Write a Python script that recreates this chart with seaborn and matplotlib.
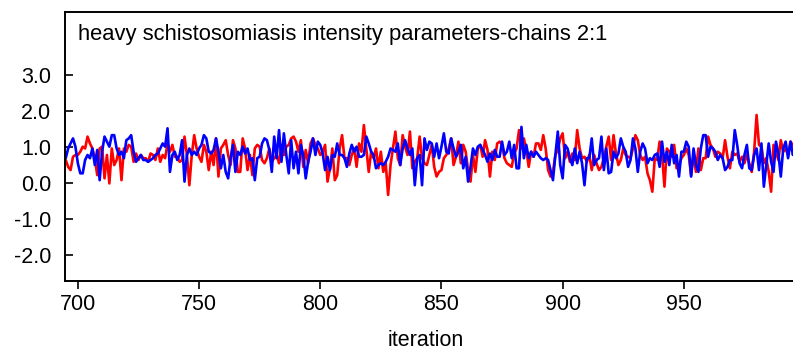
import numpy as np
import pandas as pd
import matplotlib
matplotlib.use("Agg")
import matplotlib.pyplot as plt
import seaborn as sns

start_iter = 695
chain_red = [
    0.64,0.45,0.36,0.73,0.78,0.78,0.87,1.01,0.96,1.29,1.10,0.96,0.69,0.22,0.96,1.01,0.13,0.78,-0.01,0.96,0.50,0.64,0.96,0.08,0.96,0.87,1.06,1.01,0.59,0.82,0.64,0.78,0.69,
    0.69,0.59,0.82,0.78,0.64,0.96,0.59,0.78,0.69,1.10,0.87,1.06,0.73,0.73,0.59,0.64,1.29,0.78,-0.06,0.78,1.33,0.96,0.73,0.59,1.06,0.87,0.36,0.87,0.50,1.24,0.18,0.96,1.06,1.19,0.78,0.50,1.19,0.96,0.31,
    0.31,1.24,0.96,0.36,0.78,0.22,0.96,1.06,1.01,0.64,0.55,0.69,0.96,0.59,0.69,0.78,0.55,1.06,0.78,1.01,1.06,1.24,1.29,1.15,0.87,1.19,0.45,0.92,0.55,1.10,1.24,1.06,0.96,0.78,0.87,1.06,0.04,
    0.41,0.96,0.08,0.22,0.96,1.33,0.69,0.69,0.50,0.78,0.96,0.45,1.10,0.87,1.61,0.96,0.31,0.87,0.69,0.96,0.41,0.87,0.31,0.55,-0.33,0.50,0.96,1.43,0.69,0.50,1.33,1.01,0.78,1.43,0.41,0.59,0.69,
    1.29,0.69,0.55,0.50,0.78,1.06,0.45,0.18,0.31,0.36,0.69,0.78,0.96,1.24,0.50,0.73,1.15,0.55,1.06,0.87,0.36,0.04,0.78,0.31,0.96,1.06,0.73,1.19,0.92,0.18,0.87,0.64,1.10,1.15,1.06,0.69,0.55,
    0.50,0.45,0.82,0.96,1.47,0.96,1.24,0.92,0.45,0.87,0.73,1.10,1.10,0.92,1.33,0.96,0.36,0.18,0.31,0.78,0.92,1.24,1.38,0.69,0.87,0.59,0.82,0.64,1.47,0.96,0.69,0.73,0.59,0.78,0.36,0.78,0.55,
    0.36,0.45,0.69,1.01,1.29,0.64,1.33,0.82,0.50,0.64,0.96,0.78,0.73,0.69,0.96,1.33,1.19,0.78,0.64,0.73,0.27,0.08,-0.24,0.69,0.64,1.15,0.78,-0.10,0.96,0.87,0.73,1.06,0.41,0.50,0.69,0.78,0.96,
    0.78,0.22,0.78,0.31,0.96,0.36,0.69,0.69,1.29,1.06,0.96,0.73,0.87,0.82,0.69,1.19,0.73,0.41,0.87,0.78,0.82,0.59,0.73,0.55,0.78,0.55,0.31,0.87,1.89,1.06,1.01,0.55,0.69,0.31,-0.24,1.06,0.87,0.64,1.19,0.87,0.96,0.78,1.15,1.06,0.96,0.87,0.78,
]
chain_blue = [
    0.69,0.96,1.10,1.24,1.01,0.55,0.27,0.27,0.64,0.78,0.69,0.96,0.50,0.92,0.08,0.87,1.29,1.15,1.01,1.33,1.33,0.96,0.78,0.87,0.69,1.19,1.24,1.33,0.87,0.59,0.69,0.78,0.64,
    0.64,0.59,0.64,0.69,0.78,0.82,0.96,1.10,1.01,1.52,0.31,0.78,0.87,0.64,0.78,1.19,0.04,0.78,0.96,0.78,0.87,0.78,0.96,1.06,1.33,1.24,0.87,0.82,0.92,1.24,0.87,0.41,0.78,0.31,0.13,0.69,1.06,0.31,0.87,
    0.78,1.01,0.82,0.96,0.64,0.69,0.08,0.69,0.73,1.10,1.24,1.19,0.92,0.31,1.29,0.69,1.47,0.59,1.38,0.78,0.27,1.19,0.41,0.87,0.27,1.06,0.78,0.13,0.59,0.87,1.24,0.78,1.15,1.06,0.82,0.36,0.73,
    0.36,0.78,0.73,1.10,0.78,0.78,0.69,0.45,0.82,1.06,0.87,1.01,0.73,0.73,0.78,1.29,1.10,0.87,0.78,0.41,0.50,0.55,0.50,0.59,0.73,0.96,0.92,0.87,1.10,0.50,0.96,1.19,0.96,0.78,0.96,-0.06,0.69,
    0.78,-0.06,1.24,0.92,1.15,1.10,0.73,1.10,0.69,1.01,1.38,0.87,0.82,1.24,0.96,0.73,0.87,1.06,0.41,0.73,0.04,0.45,0.96,0.78,1.01,1.06,0.92,0.78,0.59,0.82,0.64,0.92,0.73,0.73,1.15,0.78,0.87,
    1.15,0.69,1.06,0.41,0.41,1.56,0.69,1.06,0.69,0.87,0.73,0.87,0.78,0.69,0.64,0.69,0.64,0.36,0.08,0.78,1.43,0.50,0.13,1.06,0.96,0.69,0.50,0.96,0.55,0.87,0.55,-0.06,0.69,0.69,1.24,0.50,0.64,
    0.69,1.29,0.36,0.96,0.27,0.31,0.87,0.69,0.82,1.24,1.01,0.87,0.45,0.64,1.24,0.96,0.31,0.87,1.10,0.96,0.55,0.69,0.64,0.78,0.82,0.45,1.15,0.59,0.87,0.50,1.06,0.55,0.78,0.18,0.87,0.87,1.15,
    1.01,0.18,0.96,0.50,0.31,0.96,1.33,1.33,0.73,1.01,0.96,0.87,0.64,0.78,0.69,0.36,0.45,0.64,0.64,1.47,1.06,0.55,0.41,0.78,1.06,0.41,0.36,0.78,0.96,0.36,1.10,-0.10,0.50,1.10,0.59,0.31,1.15,0.82,0.18,0.96,1.15,0.69,1.15,0.78,1.15,0.69,1.15,
]
y_ticks = [-2.0, -1.0, 0.0, 1.0, 2.0, 3.0]
x_ticks = [700, 750, 800, 850, 900, 950]
title = "heavy schistosomiasis intensity parameters-chains 2:1"

n = min(len(chain_red), len(chain_blue))
iters = np.arange(start_iter, start_iter + n)
df = pd.DataFrame({
    "iteration": np.concatenate([iters, iters]),
    "value": np.concatenate([chain_red[:n], chain_blue[:n]]),
    "chain": ["red"] * n + ["blue"] * n,
})

sns.set_style("ticks")
plt.rcParams["font.family"] = ["Liberation Sans", "DejaVu Sans"]
plt.rcParams["text.color"] = "black"

fig = plt.figure(figsize=(7.93, 3.52), dpi=100)
ax_w = 1 - 65/793 + 0.01
ax = fig.add_axes([65/793, 1 - 281/352, ax_w, (281 - 12)/352])
sns.lineplot(data=df, x="iteration", y="value", hue="chain",
             palette={"red": "#ff0000", "blue": "#0000ff"},
             linewidth=1.9, legend=False, ax=ax, estimator=None)

ax.set_xlim(694.7, 998.3)
ax.set_ylim(-2.72, 4.75)
ax.set_xticks(x_ticks)
ax.set_xticklabels([str(t) for t in x_ticks])
ax.set_yticks(y_ticks)
ax.set_yticklabels([f"{t:.1f}" for t in y_ticks])
ax.tick_params(axis="y", direction="in", length=6, width=1.2, labelsize=15.5, pad=10,
               colors="black", labelcolor="black")
ax.tick_params(axis="x", direction="out", length=6, width=1.2, labelsize=15.5, pad=3,
               colors="black", labelcolor="black")
ax.set_xlabel("iteration", fontsize=15.5, color="black", va="center")
ax.xaxis.set_label_coords((426 - 65) / (ax_w * 793), (281 - 341) / 269)
ax.set_ylabel("")
for side in ["left", "top", "bottom"]:
    ax.spines[side].set_linewidth(1.4)
    ax.spines[side].set_color("black")
ax.spines["right"].set_visible(False)
ax.text(0.018, 0.955, title, transform=ax.transAxes, fontsize=15.8,
        ha="left", va="top", color="black")

fig.savefig("out.png", dpi=100)
